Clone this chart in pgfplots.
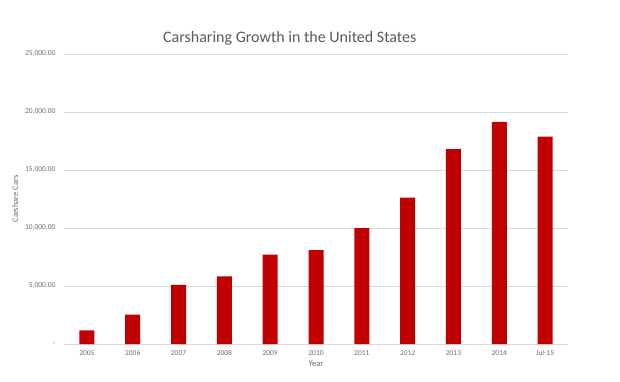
\documentclass[border=0pt]{standalone}
\usepackage{pgfplots}
\pgfplotsset{compat=1.18}
\usepackage{fontspec}
\setmainfont{Carlito}
\definecolor{barred}{RGB}{192,0,0}
\definecolor{gridgray}{RGB}{217,217,217}
\definecolor{txtgray}{RGB}{89,89,89}
\definecolor{ticktxt}{RGB}{110,110,110}
\begin{document}
\begin{tikzpicture}[x=1pt,y=1pt]
\path[use as bounding box] (-64,-37) rectangle (556,344);
\begin{axis}[
  at={(0,0)}, anchor=south west,
  scale only axis, width=504pt, height=290pt,
  ybar, bar width=15pt,
  xmin=-0.5, xmax=10.5, ymin=0, ymax=25000,
  scaled y ticks=false,
  xtick={0,...,10},
  xticklabels={2005,2006,2007,2008,2009,2010,2011,2012,2013,2014,Jul-15},
  ytick={0,5000,10000,15000,20000,25000},
  yticklabels={-,{5,000.00},{10,000.00},{15,000.00},{20,000.00},{25,000.00}},
  ymajorgrids, grid style={gridgray, line width=0.8pt},
  axis line style={draw=none},
  major tick length=0pt,
  xtick pos=bottom, ytick pos=left,
  ticklabel style={font=\fontsize{7.5}{9}\selectfont, text=ticktxt},
  xticklabel style={yshift=-3pt},
  yticklabel style={xshift=-5pt},
  xlabel={Year}, ylabel={Carshare Cars},
  label style={font=\fontsize{8.5}{10}\selectfont, text=ticktxt},
  xlabel style={yshift=2pt},
  clip=false,
]
\draw[gridgray, line width=0.8pt] (rel axis cs:0,0) -- (rel axis cs:1,0);
\addplot[fill=barred, draw=none, bar shift=0pt] coordinates {
  (0,1170) (1,2530) (2,5090) (3,5830) (4,7700) (5,8100)
  (6,10000) (7,12610) (8,16810) (9,19140) (10,17870)
};
\node[font=\fontsize{16}{19}\selectfont, text=txtgray] at (rel axis cs:0.448,1.055) {Carsharing Growth in the United States};
\end{axis}
\end{tikzpicture}
\end{document}
